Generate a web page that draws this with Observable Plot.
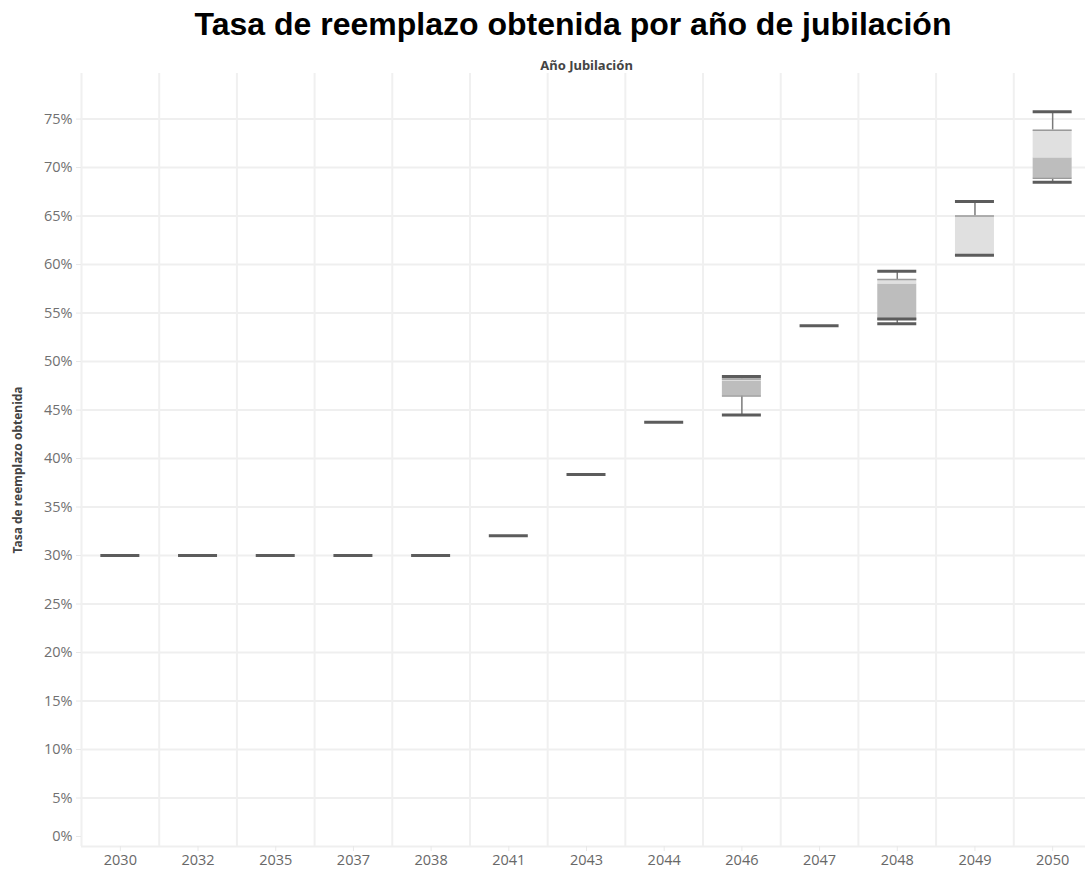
<!DOCTYPE html>
<html>
<head>
<meta charset="utf-8">
<script src="https://cdn.jsdelivr.net/npm/d3@7"></script>
<script src="https://cdn.jsdelivr.net/npm/@observablehq/plot@0.6"></script>
<style>
  html, body { margin: 0; padding: 0; background: #fff; overflow: hidden; }
  #title { position: absolute; left: 0; top: 6px; width: 1146px;
    text-align: center; font: bold 32px "Liberation Sans", Arial, sans-serif; color: #000; white-space: nowrap; }
  #chart { position: absolute; left: 0; top: 50px; width: 1091px; }
  #chart svg { max-width: none !important; height: 821px !important; }
</style>
</head>
<body>
<div id="title">Tasa de reemplazo obtenida por año de jubilación</div>
<div id="chart"></div>
<script>
// Categories (year of retirement)
const years = [2030, 2032, 2035, 2037, 2038, 2041, 2043, 2044, 2046, 2047, 2048, 2049, 2050];

// Individual data marks (dark dashes), in %
const pointYears  = [2030, 2032, 2035, 2037, 2038, 2041, 2043, 2044, 2046, 2046, 2047, 2048, 2048, 2048, 2049, 2049, 2050, 2050];
const pointValues = [30, 30, 30, 30, 30, 32.05, 38.35, 43.75, 48.45, 44.5, 53.7, 59.3, 54.4, 53.9, 66.5, 60.95, 75.75, 68.5];

// Box plot statistics, in %
const boxYears  = [2046, 2048, 2049, 2050];
const boxMin    = [44.5, 53.9, 60.95, 68.5];
const boxQ1     = [46.45, 54.4, 60.95, 68.9];
const boxMedian = [48.0, 58.0, 60.95, 71.0];
const boxQ3     = [48.2, 58.45, 65.0, 73.85];
const boxMax    = [48.45, 59.3, 66.5, 75.75];

// Axis ticks
const yTicks = d3.range(0, 80, 5);

const points = pointYears.map((y, i) => ({year: String(y), value: pointValues[i]}));
const boxes = boxYears.map((y, i) => ({
  year: String(y), min: boxMin[i], q1: boxQ1[i], median: boxMedian[i], q3: boxQ3[i], max: boxMax[i]
}));
const yearStr = years.map(String);

const font = "'Open Sans', 'Noto Sans', sans-serif";
const W = 1091, ML = 81;
const step = (W - ML) / years.length;
const inset = (step - 39) / 2;

const chart = Plot.plot({
  width: W,
  height: 821,
  marginTop: 23,
  marginBottom: 25,
  marginLeft: ML,
  marginRight: 0,
  style: {fontFamily: font, background: "#fff", maxWidth: "none"},
  x: {type: "band", domain: yearStr, padding: 0, round: false, label: null},
  y: {domain: [0, 79.7], label: null},
  marks: [
    // horizontal gridlines
    Plot.ruleY(yTicks, {stroke: "#efefef", strokeWidth: 2}),
    // vertical column separators
    Plot.ruleX(yearStr, {x: d => d, dx: -step / 2, stroke: "#f0f0f0", strokeWidth: 2}),
    // axes
    Plot.axisY({ticks: yTicks.filter(d => d > 0), tickFormat: d => d + "%", tickSize: 5, tickPadding: 4,
      stroke: "#e8e8e8", fill: "#707070", fontSize: 14.5, label: null}),
    Plot.axisY({ticks: [0], tickFormat: d => d + "%", tickSize: 5, tickPadding: 4,
      stroke: "#e8e8e8", fill: "#707070", fontSize: 14.5, label: null, dy: -10}),
    Plot.axisX({tickSize: 5, tickPadding: 3, stroke: "#e8e8e8", fill: "#686868", fontSize: 14.5, label: null}),
    // whiskers
    Plot.ruleX(boxes, {x: "year", y1: "q3", y2: "max", stroke: "#7a7a7a", strokeWidth: 1.5}),
    Plot.ruleX(boxes, {x: "year", y1: "min", y2: "q1", stroke: "#7a7a7a", strokeWidth: 1.5}),
    // box: lower half (Q1 - median) and upper half (median - Q3)
    Plot.barY(boxes, {x: "year", y1: "q1", y2: "median", fill: "#bdbdbd", insetLeft: inset, insetRight: inset}),
    Plot.barY(boxes, {x: "year", y1: "median", y2: "q3", fill: "#e0e0e0", insetLeft: inset, insetRight: inset}),
    Plot.tickY(boxes, {x: "year", y: "q3", stroke: "#9a9a9a", strokeWidth: 1.5, insetLeft: inset, insetRight: inset}),
    Plot.tickY(boxes, {x: "year", y: "q1", stroke: "#9a9a9a", strokeWidth: 1.5, insetLeft: inset, insetRight: inset}),
    // data marks
    Plot.tickY(points, {x: "year", y: "value", stroke: "#5c5c5c", strokeWidth: 3, insetLeft: inset, insetRight: inset}),
    // axis titles
    Plot.text(["Año Jubilación"], {frameAnchor: "top", dy: -13, fontWeight: "bold", fontSize: 13, fill: "#444",
      fontFamily: "'Noto Sans', sans-serif"}),
    Plot.text(["Tasa de reemplazo obtenida"], {frameAnchor: "left", dx: -63, dy: 10, rotate: -90, textAnchor: "middle",
      fontWeight: "bold", fontSize: 12, fill: "#444", fontFamily: "'Noto Sans', sans-serif"})
  ]
});
document.getElementById("chart").append(chart);
</script>
</body>
</html>
